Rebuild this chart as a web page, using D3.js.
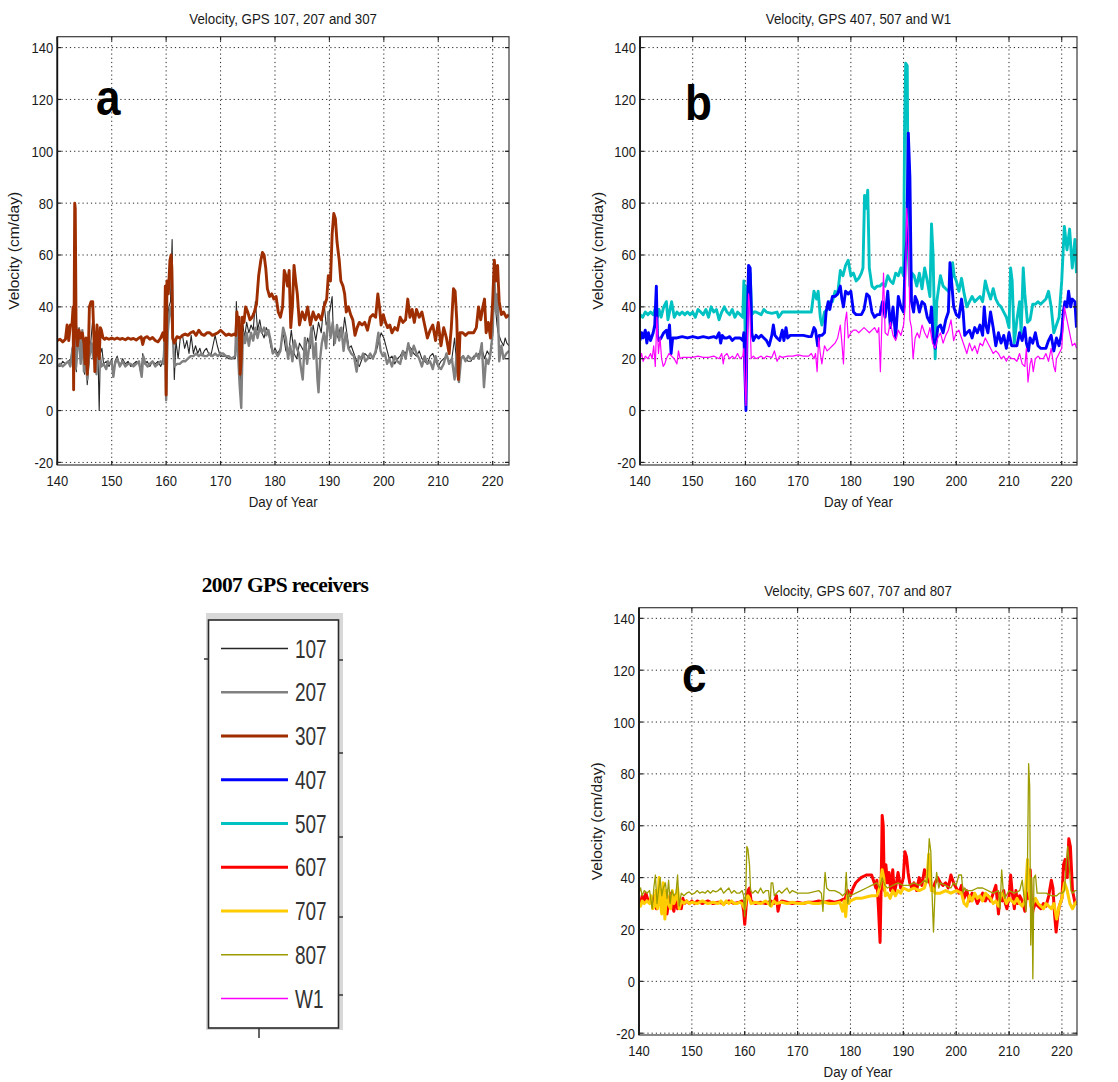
<!DOCTYPE html>
<html>
<head>
<meta charset="utf-8">
<script src="https://cdn.jsdelivr.net/npm/d3@7"></script>
<style>
  html, body { margin: 0; padding: 0; background: #fff; }
  svg { display: block; }
</style>
</head>
<body>
<svg id="fig" width="1118" height="1082"></svg>
<script>
// ---- Daily velocity records, [day of year, velocity in cm/day] ----
const gps107 = [[140,18],[140.5,17],[141,19],[141.5,18],[142,19],[142.5,20],[142.8,25],[143.05,30],[143.2,52],[143.35,22],[143.5,15],[143.8,30],[144,32],[144.3,22],[144.6,28],[145,14],[145.3,20],[145.5,10],[145.8,18],[146,22],[146.3,30],[146.5,35],[146.8,24],[147,20],[147.3,28],[147.5,19],[147.7,0],[147.9,22],[148.2,24],[148.5,18],[149,19],[149.5,17],[150,20],[150.3,13],[150.6,19],[151,21],[151.5,17],[152,20],[152.5,18],[153,19],[153.5,17],[154,18],[154.5,19],[155,18],[155.4,14],[155.7,22],[156,18],[156.5,19],[157,17],[157.5,19],[158,18],[158.5,19],[159,17],[159.5,20],[159.8,34],[160,5],[160.2,30],[160.5,40],[160.8,42],[161.1,66],[161.3,30],[161.5,12],[161.8,27],[162.2,20],[162.6,28],[163,29],[163.4,24],[163.8,27],[164.2,22],[164.6,29],[165,22],[165.4,25],[165.8,22],[166.2,24],[166.6,21],[167,23],[167.4,24],[167.8,22],[168.2,21],[168.6,25],[169,29],[169.4,25],[169.8,22],[170.2,21],[170.8,21],[171.5,20],[172.2,20],[172.7,20],[172.9,42],[173.2,26],[173.5,18],[173.7,10],[174,35],[174.4,28],[174.8,34],[175.2,30],[175.6,33],[176,31],[176.4,42],[176.8,31],[177.2,35],[177.6,30],[178,28],[178.4,32],[178.8,30],[179.2,25],[179.6,22],[180,24],[180.5,22],[181,24],[181.5,30],[182,23],[182.5,22],[183,31],[183.5,22],[184,20],[184.5,26],[185,24],[185.5,22],[186,28],[186.5,24],[187,33],[187.5,27],[188,34],[188.5,30],[189,42],[189.4,33],[189.8,35],[190.2,40],[190.5,44],[190.8,25],[191.2,30],[191.6,28],[192,32],[192.4,28],[192.8,36],[193.2,30],[193.6,24],[194,25],[194.5,22],[195,19],[195.5,17],[196,20],[196.5,22],[197,21],[197.5,20],[198,21],[198.5,22],[199,26],[199.5,30],[200,28],[200.5,24],[201,20],[201.5,21],[202,18],[202.5,20],[203,21],[203.5,23],[204,22],[204.5,25],[205,24],[205.5,22],[206,21],[206.5,23],[207,20],[207.5,19],[208,18],[208.5,21],[209,22],[209.5,19],[210,17],[210.5,19],[211,20],[211.5,21],[212,19],[212.5,20],[213,28],[213.3,20],[213.5,13],[213.8,18],[214,20],[214.5,21],[215,20],[215.5,19],[216,19],[216.5,21],[217,21],[217.5,22],[218,24],[218.5,20],[219,23],[219.5,21],[220,30],[220.2,49],[220.5,40],[220.8,33],[221,30],[221.5,27],[222,25],[222.3,28],[222.6,26],[223,25]];

const gps207 = [[140,17],[140.5,18],[141,17],[141.5,18],[142,19],[142.4,17],[142.8,24],[143,20],[143.2,35],[143.4,16],[143.7,25],[144,27],[144.3,18],[144.6,31],[144.9,15],[145.2,22],[145.5,12],[145.8,20],[146,22],[146.3,26],[146.6,20],[146.9,30],[147.2,14],[147.5,24],[147.8,22],[148.1,17],[148.5,18],[149,16],[149.3,19],[149.6,18],[150,19],[150.3,13],[150.6,18],[151,20],[151.5,17],[152,19],[152.5,17],[153,18],[153.5,18],[154,17],[154.5,18],[155,19],[155.5,13],[155.8,21],[156.2,18],[156.6,17],[157,18],[157.5,19],[158,17],[158.5,18],[159,19],[159.5,18],[159.8,30],[160,4],[160.3,30],[160.6,38],[160.9,40],[161.2,30],[161.5,17],[162,18],[162.5,18],[163,19],[163.5,19],[164,20],[164.5,21],[165,21],[165.5,22],[166,21],[166.5,22],[167,21],[167.5,21],[168,22],[168.5,21],[169,22],[169.5,21],[170,22],[170.5,22],[171,21],[171.5,21],[172,20],[172.7,21],[172.9,35],[173.2,22],[173.5,10],[173.8,1],[174.1,30],[174.5,26],[174.8,30],[175.2,25],[175.6,30],[176,27],[176.4,32],[176.8,28],[177.2,32],[177.6,30],[178,32],[178.4,29],[178.8,31],[179.2,27],[179.6,22],[180,23],[180.5,21],[181,23],[181.5,32],[182,28],[182.4,20],[182.8,25],[183.2,19],[183.6,27],[184,24],[184.4,22],[184.8,16],[185.1,12],[185.5,28],[185.9,18],[186.3,25],[186.7,32],[187.1,20],[187.5,26],[187.8,12],[188,7],[188.3,20],[188.6,26],[189,30],[189.4,24],[189.8,38],[190.2,28],[190.6,34],[191,26],[191.4,33],[191.8,27],[192.2,32],[192.6,23],[193,30],[193.5,24],[194,22],[194.5,21],[195,15],[195.4,21],[195.8,20],[196.2,22],[196.6,19],[197,20],[197.5,22],[198,20],[198.5,23],[199,30],[199.4,23],[199.8,21],[200.2,22],[200.6,18],[201,20],[201.5,17],[202,21],[202.5,19],[203,18],[203.5,23],[204,20],[204.5,26],[205,21],[205.5,25],[206,22],[206.5,20],[207,17],[207.5,21],[208,18],[208.5,19],[209,16],[209.5,21],[210,17],[210.5,16],[211,18],[211.5,22],[212,18],[212.5,20],[213,12],[213.4,22],[213.8,11],[214.2,20],[214.6,21],[215,19],[215.5,21],[216,20],[216.5,20],[217,22],[217.5,20],[218,26],[218.4,9],[218.8,20],[219.2,18],[219.6,22],[220,30],[220.3,52],[220.6,38],[220.9,45],[221.2,19],[221.6,25],[222,20],[222.5,22],[223,23]];

const gps307 = [[140,27],[140.5,27.5],[141,26.5],[141.5,27.5],[141.8,33],[142.1,27],[142.4,33],[142.7,33],[142.9,40],[143.0,8],[143.1,40],[143.2,80],[143.3,78],[143.45,33],[143.7,25],[144,31],[144.3,28],[144.6,30],[144.9,26],[145.1,18],[145.3,28],[145.5,14],[145.7,22],[145.9,40],[146.2,42],[146.5,42],[146.7,30],[146.9,15],[147.1,25],[147.3,33],[147.5,22],[147.7,20],[147.9,32],[148.1,31],[148.4,28],[148.7,27.5],[149,28],[149.5,27.5],[150,28],[150.5,27.5],[151,28],[151.5,27.5],[152,27.8],[152.5,27.3],[153,28],[153.5,27.5],[154,27.8],[154.5,27.2],[155,28],[155.4,28.5],[155.7,25.5],[156,28],[156.5,28.5],[157,27.5],[157.5,28.2],[158,27],[158.5,26.5],[159,28],[159.4,30],[159.7,27],[159.85,48],[160,6],[160.15,50],[160.4,45],[160.7,58],[160.9,60],[161.05,55],[161.2,28],[161.5,26],[162,28.5],[162.5,28],[163,29],[163.5,29.5],[164,29],[164.5,30],[165,30.5],[165.5,29],[166,31],[166.5,29.5],[167,29],[167.5,30],[168,30],[168.5,29],[169,29.5],[169.5,30],[170,31],[170.5,30],[171,29],[171.5,29.5],[172,29],[172.5,29.5],[172.8,29],[173,38],[173.2,33],[173.4,36],[173.6,14],[173.8,20],[174,36],[174.3,34],[174.6,40],[175,38],[175.4,35],[175.8,36],[176.2,38],[176.6,41],[177,52],[177.4,58],[177.7,61],[178,60],[178.3,55],[178.6,47],[179,44],[179.4,45],[179.8,43],[180.2,44],[180.6,38],[181,36],[181.4,40],[181.7,54],[182,52],[182.3,48],[182.6,54],[182.9,32],[183.2,40],[183.5,56],[183.8,50],[184.1,45],[184.5,33],[185,38],[185.5,35],[186,40],[186.5,33],[187,38],[187.5,35],[188,37],[188.5,35],[189,40],[189.5,43],[189.8,52],[190.2,50],[190.5,68],[190.8,76],[191.1,74],[191.4,65],[191.8,58],[192.1,50],[192.5,48],[192.8,45],[193.1,38],[193.5,40],[193.9,37],[194.3,35],[194.7,29],[195.1,32],[195.5,34],[196,33],[196.5,34],[197,31],[197.5,36],[198,37],[198.5,36],[198.9,45],[199.2,40],[199.5,33],[199.9,37],[200.3,34],[200.7,32],[201.1,33],[201.5,30],[202,32],[202.5,31],[203,36],[203.5,34],[204,35],[204.4,43],[204.8,36],[205.2,39],[205.6,34],[206,39],[206.5,36],[207,38],[207.5,33],[208,28],[208.5,31],[209,33],[209.5,27],[210,34],[210.5,25],[211,32],[211.5,28],[212,22],[212.4,32],[212.8,47],[213.1,46],[213.4,35],[213.7,12],[214,30],[214.5,30],[215,29],[215.5,30],[216,30],[216.5,30],[217,32],[217.4,40],[217.8,35],[218.2,40],[218.5,43],[218.8,30],[219.2,34],[219.6,28],[220,42],[220.3,58],[220.6,50],[220.9,56],[221.2,42],[221.6,37],[222,38],[222.5,36],[223,37]];

const gps407 = [[140,27],[140.3,30],[140.6,28],[141,31],[141.3,26],[141.6,30],[142,27],[142.5,30],[142.8,33],[143.1,48],[143.3,29],[143.6,27],[144,28],[144.5,30],[145,31],[145.3,28],[145.6,33],[145.9,22],[146.2,28],[146.5,28],[147,28],[148,28.5],[149,28],[150,28.5],[151,28],[152,28.5],[153,28],[154,28.5],[154.5,28],[155,30],[155.3,26],[155.6,29],[156,28],[156.5,28],[157,28.5],[157.5,27],[158,28],[158.5,28],[159,28],[159.5,27],[159.7,30],[159.9,15],[160.1,0],[160.3,30],[160.6,56],[160.9,55],[161.2,30],[161.5,27],[162,29],[162.5,28],[163,29],[163.5,28],[164,27],[164.5,25],[165,29],[165.3,33],[165.6,29],[166,28],[166.5,27],[167,31],[167.3,27],[167.7,32],[168,28],[168.5,29],[169,29],[170,29],[171,29],[172,28.5],[172.5,28.5],[173,32],[173.3,31],[173.7,25],[174,29],[174.5,29],[175,30],[175.3,38],[175.7,42],[176,39],[176.5,44],[177,44],[177.5,45],[178,48],[178.3,43],[178.6,40],[179,46],[179.5,45],[180,46],[180.5,38],[181,37],[182,37],[182.5,39],[183,45],[183.5,44],[184,38],[184.5,36],[185,37],[185.5,37],[186,42],[186.5,36],[187,46],[187.5,32],[188,40],[188.5,28],[189,44],[189.5,40],[190,38],[190.3,57],[190.6,66],[190.9,107],[191.2,90],[191.5,42],[191.9,38],[192.2,44],[192.6,42],[193,38],[193.5,42],[194,41],[194.5,36],[195,34],[195.3,40],[195.6,28],[196,24],[196.5,32],[197,33],[197.5,30],[198,35],[198.5,38],[198.8,57],[199.1,50],[199.5,40],[200,37],[200.5,36],[201,43],[201.3,38],[201.6,29],[202,30],[202.5,31],[203,28],[203.5,32],[204,30],[204.5,33],[205,29],[205.3,40],[205.6,33],[206,30],[206.5,38],[207,32],[207.5,25],[208,30],[208.5,26],[209,29],[209.5,24],[210,30],[210.5,25],[211,25],[211.5,25],[212,30],[212.5,27],[213,32],[213.3,26],[213.7,23],[214,28],[214.5,26],[215,30],[215.5,25],[216,24],[216.5,24],[217,24],[217.5,27],[218,29],[218.5,23],[219,28],[219.5,25],[220,30],[220.3,38],[220.6,42],[221,40],[221.3,46],[221.7,40],[222,43],[222.5,42],[222.8,32]];

const gps507 = [[140,37],[140.5,36],[141,38],[141.5,37],[142,38],[142.5,37],[143,40],[143.3,36],[143.6,39],[144,36],[144.5,40],[145,42],[145.3,35],[145.7,39],[146,42],[146.5,36],[147,38],[147.5,37],[148,38],[148.5,37],[149,38],[149.5,37],[150,38],[150.5,36],[151,39],[151.5,38],[152,37],[152.5,39],[153,36],[153.5,40],[154,38],[154.5,39],[155,35],[155.5,38],[156,40],[156.5,38],[157,37],[157.5,39],[158,36],[158.5,38],[159,37],[159.5,36],[159.7,50],[159.9,35],[160.1,12],[160.3,48],[160.6,42],[160.9,53],[161.2,37],[161.6,38],[162,38],[163,37],[163.5,39],[164,38],[165,37.5],[166,38],[166.3,36],[167,38],[168,38],[169,38],[170,38],[171,38],[172,38],[172.5,38],[173,46],[173.5,43],[173.8,46],[174.2,36],[174.5,33],[175,38],[175.5,39],[176,42],[176.5,42],[177,46],[177.5,45],[178,54],[178.5,52],[179,56],[179.5,58],[180,52],[180.5,53],[181,50],[181.5,51],[182,53],[182.3,55],[182.6,83],[182.9,78],[183.2,85],[183.5,55],[184,48],[184.5,47],[185,48],[185.5,48],[186,49],[186.5,48],[187,52],[187.5,50],[188,49],[188.5,53],[189,52],[189.5,55],[190,52],[190.2,110],[190.4,134],[190.7,133],[190.9,60],[191.2,48],[191.6,53],[192,52],[192.5,48],[193,53],[193.5,47],[194,55],[194.5,50],[195,44],[195.3,72],[195.6,60],[196,20],[196.3,42],[196.7,48],[197,52],[197.5,48],[198,47],[198.5,46],[199,48],[199.3,57],[199.6,52],[200,50],[200.5,46],[201,51],[201.5,45],[202,40],[202.5,42],[203,44],[203.5,42],[204,43],[204.5,44],[205,42],[205.5,50],[206,46],[206.5,43],[207,47],[207.5,43],[208,41],[208.5,40],[209,38],[209.5,36],[210,32],[210.3,55],[210.6,50],[211,26],[211.5,35],[212,42],[212.3,30],[212.7,55],[213,45],[213.5,34],[214,35],[214.5,41],[215,41],[215.5,42],[216,41],[217,43],[217.5,46],[218,40],[218.5,30],[219,33],[219.5,36],[220,50],[220.5,71],[221,62],[221.5,70],[222,55],[222.5,66],[222.8,53]];

const gpsW1 = [[140,20],[140.3,22],[140.6,19],[141,21],[141.5,20],[142,22],[142.3,20],[142.6,25],[142.9,17],[143.2,36],[143.5,22],[143.8,28],[144.1,20],[144.4,17],[144.7,18],[145,20],[145.5,22],[146,21],[146.5,20],[147,18],[147.3,23],[147.6,20],[148,20.5],[149,20.5],[150,20.5],[151,21],[152,20.5],[153,20.5],[154,21],[155,20],[155.5,22],[155.8,18],[156,21],[156.5,22],[157,20],[157.5,21],[158,20],[158.5,22],[159,20],[159.5,21],[159.7,24],[159.9,10],[160.1,2],[160.3,22],[160.6,45],[160.8,40],[161.1,20],[161.5,21],[162,20],[163,21],[163.5,20],[164,21],[165,20.5],[165.5,23],[166,19],[166.5,21],[167,20.5],[168,21],[169,21],[170,21.5],[171,21],[172,21],[172.5,22],[173,20],[173.3,22],[173.6,15],[173.9,28],[174.2,22],[174.5,18],[175,25],[175.5,23],[176,24],[176.5,25],[177,26],[177.5,28],[178,33],[178.3,26],[178.6,18],[178.9,34],[179.2,38],[179.5,28],[180,30],[180.5,31],[181,31],[181.5,30],[182,31],[182.5,32],[183,31],[183.5,30],[184,31],[184.5,32],[185,30],[185.3,32],[185.6,15],[185.9,35],[186.2,53],[186.5,30],[187,29],[187.5,34],[188,29],[188.5,27],[189,31],[189.5,29],[190,33],[190.3,40],[190.6,78],[190.9,68],[191.2,35],[191.5,32],[191.8,20],[192.2,28],[192.6,30],[193,28],[193.5,33],[194,30],[194.5,28],[195,32],[195.5,26],[196,24],[196.5,28],[197,30],[197.5,26],[198,29],[198.5,31],[199,35],[199.5,27],[200,30],[200.5,31],[201,28],[201.5,25],[202,22],[202.5,26],[203,23],[203.5,25],[204,22],[204.5,26],[205,25],[205.5,28],[206,26],[206.5,24],[207,22],[207.5,23],[208,22],[208.5,20],[209,21],[209.5,19],[210,21],[210.5,20],[211,20],[211.5,19],[212,22],[212.5,18],[213,17],[213.3,24],[213.6,11],[214,18],[214.3,20],[214.6,15],[215,20],[215.5,21],[216,20],[216.5,20],[217,22],[217.5,19],[218,24],[218.5,17],[218.8,15],[219,20],[219.5,22],[220,24],[220.5,40],[221,35],[221.5,30],[222,25],[222.5,26],[222.8,24]];

const gps607 = [[140,31],[140.3,30],[140.6,33],[141,31],[141.3,34],[141.6,32],[142,31],[142.5,30],[143,33],[143.3,28],[143.6,32],[144,30],[144.3,35],[144.6,27],[145,33],[145.3,26],[145.6,31],[146,34],[146.3,29],[146.6,27],[147,33],[147.3,28],[147.6,30],[148,28],[148.3,32],[148.6,30],[149,31],[149.5,30],[150,31],[150.5,30],[151,31],[152,30],[153,31],[154,30],[155,30.5],[156,30],[157,31],[158,30],[159,30.5],[159.5,31],[159.8,27],[160,22],[160.3,30],[160.6,35],[160.9,36],[161.2,31],[162,30],[163,30.5],[164,30],[165,31],[165.5,30],[166,33],[166.3,27],[166.6,30],[167,31],[168,30.5],[169,30],[170,30.5],[171,30],[172,30.5],[173,30.5],[174,31],[175,30.5],[176,31],[177,30.5],[178,31],[179,32],[179.5,35],[180,33],[180.5,36],[181,38],[182,40],[183,41],[184,41],[184.5,38],[184.8,36],[185,39],[185.3,28],[185.6,15],[185.8,36],[186,64],[186.2,60],[186.4,35],[186.7,45],[187,38],[187.3,42],[187.6,35],[188,43],[188.3,34],[188.7,38],[189,42],[189.5,36],[190,40],[190.3,50],[190.6,48],[190.9,42],[191.2,38],[191.6,36],[192,38],[192.5,35],[193,40],[193.5,37],[194,43],[194.5,40],[195,38],[195.5,35],[196,38],[196.5,40],[197,38],[197.5,37],[198,38],[198.5,36],[199,41],[199.5,38],[200,36],[200.5,34],[201,37],[201.5,32],[202,35],[202.5,31],[203,34],[203.5,33],[204,30],[204.5,32],[205,34],[205.5,31],[206,33],[206.5,31],[207,34],[207.5,37],[208,26],[208.3,34],[208.7,31],[209,35],[209.3,30],[209.6,28],[210,33],[210.3,41],[210.6,34],[211,28],[211.3,35],[211.6,30],[212,33],[212.5,31],[213,27],[213.3,34],[213.7,32],[214,43],[214.3,25],[214.6,28],[215,30],[215.5,29],[216,28],[216.5,30],[217,29],[217.5,33],[218,39],[218.3,36],[218.6,26],[218.9,19],[219.2,25],[219.5,29],[220,32],[220.3,45],[220.6,47],[221,40],[221.3,55],[221.6,52],[222,35],[222.5,30],[222.8,30]];

const gps707 = [[140,30],[140.3,29],[140.6,31],[141,30],[141.5,31],[142,30],[142.3,33],[142.6,28],[143,29],[143.2,35],[143.5,28],[143.8,40],[144,31],[144.3,26],[144.6,38],[144.9,24],[145.2,35],[145.5,30],[146,28],[146.3,35],[146.6,30],[147,32],[147.3,36],[147.6,28],[148,31],[148.5,30],[149,31],[149.5,30],[150,30.5],[151,30],[152,31],[153,30],[154,30.5],[155,30],[155.5,31],[156,29.5],[156.5,31],[157,30],[157.5,31],[158,30],[158.5,30],[159,30.5],[159.5,30],[160,28],[160.3,32],[160.6,33],[160.9,32],[161.2,30],[162,30.5],[163,30],[164,31],[164.5,30],[165,29],[165.5,31],[166,30],[167,30.5],[168,30],[169,30.5],[170,30],[171,30],[172,30.5],[173,30],[174,30],[175,30.5],[176,30],[177,30],[178,30.5],[178.5,27],[178.8,31],[179.1,25],[179.4,33],[179.7,30],[180,31],[181,32],[182,32],[183,32.5],[184,33],[185,33],[185.5,36],[186,43],[186.3,40],[186.6,33],[187,34],[187.5,32],[188,35],[188.5,33],[189,35],[189.5,34],[190,36],[191,35],[192,36],[193,35],[194,36],[194.5,40],[194.8,49],[195,44],[195.3,35],[195.6,36],[196,34],[197,34],[198,35],[199,34],[200,35],[201,34],[201.5,30],[202,29],[202.5,33],[203,31],[203.5,34],[204,32],[204.5,33],[205,31],[205.5,34],[206,33],[206.5,32],[207,30],[207.5,31],[208,29],[208.5,34],[209,33],[209.5,30],[210,32],[210.5,31],[211,30],[211.5,32],[212,30],[212.5,29],[213,31],[213.5,47],[213.8,35],[214.1,29],[214.5,30],[215,32],[215.5,30],[216,29],[216.5,28],[217,30],[217.5,29],[218,28],[218.5,30],[219,24],[219.5,29],[220,32],[220.5,38],[221,35],[221.5,30],[222,28],[222.5,30],[222.8,31]];

const gps807 = [[140,34],[140.3,36],[140.6,33],[141,35],[141.5,34],[142,35],[142.5,28],[142.8,36],[143.1,41],[143.4,30],[143.7,35],[144,40],[144.3,33],[144.6,36],[145,38],[145.3,32],[145.6,39],[145.9,30],[146.2,35],[146.6,33],[147,34],[147.3,41],[147.6,29],[148,34],[148.5,33],[149,34],[149.5,34.5],[150,33.5],[150.5,34],[151,35],[151.5,34],[152,34.5],[152.5,34],[153,35],[153.5,34],[154,35],[154.5,34.5],[155,35],[155.5,36],[156,34],[156.5,35],[157,36],[157.5,34],[158,35],[158.5,34],[159,34],[159.5,35],[159.8,33],[160,25],[160.2,35],[160.4,52],[160.6,51],[160.9,45],[161.1,35],[161.5,34],[162,35],[162.5,34],[163,36],[163.5,34],[164,35],[164.5,35],[164.8,29],[165,38],[165.3,38],[165.6,33],[166,34],[166.5,35],[167,34],[167.5,35],[168,36],[168.5,34],[169,35],[170,34],[171,34],[172,34],[173,34.5],[174,35],[174.5,34],[174.8,27],[175,35],[175.2,42],[175.5,36],[176,35],[177,35],[178,34],[178.5,33],[179,34],[179.2,42],[179.5,30],[179.8,34],[180,33],[181,34],[182,35],[183,36],[184,37],[185,38],[185.5,36],[186,40],[186.5,37],[187,36],[188,37],[189,38],[190,37],[191,37],[192,38],[193,37],[194,39],[194.5,38],[194.9,55],[195.2,50],[195.5,30],[195.7,19],[196,35],[196.3,42],[196.7,36],[197,38],[198,37],[199,36],[199.5,38],[200,37],[200.5,41],[201,41],[201.3,34],[201.6,36],[202,35],[203,35],[204,36],[205,36],[206,35],[207,34],[208,35],[208.3,28],[208.6,43],[208.9,35],[209.2,32],[210,35],[211,34],[212,35],[212.5,39],[212.8,33],[213.2,27],[213.5,48],[213.7,84],[213.9,75],[214.1,14],[214.3,40],[214.5,1],[214.7,40],[215,41],[215.3,34],[215.7,34],[216,34],[217,34],[218,33],[218.5,33],[219,33],[219.5,34],[220,34],[220.5,35],[220.8,45],[221.1,52],[221.4,44],[221.7,35],[222,34],[222.5,35],[222.8,35]];

// ---- Axis ticks and labels ----
const dayTicks = [140, 150, 160, 170, 180, 190, 200, 210, 220];
const velocityTicks = [-20, 0, 20, 40, 60, 80, 100, 120, 140];
const receiverNames = ["107", "207", "307", "407", "507", "607", "707", "807", "W1"];

// ---- Line styles per receiver ----
const receiverStyle = {
  "107": { color: "#262626", width: 1.1 },
  "207": { color: "#808080", width: 2.4 },
  "307": { color: "#9e2e00", width: 2.9 },
  "407": { color: "#0000ff", width: 2.9 },
  "507": { color: "#00c2c2", width: 2.9 },
  "607": { color: "#ff0000", width: 3.0 },
  "707": { color: "#ffcc00", width: 3.0 },
  "807": { color: "#9c9c00", width: 1.3 },
  "W1":  { color: "#ff00ff", width: 1.2 }
};

const receiverData = {
  "107": gps107, "207": gps207, "307": gps307,
  "407": gps407, "507": gps507, "W1": gpsW1,
  "607": gps607, "707": gps707, "807": gps807
};

// ---- Panel layout ----
const panels = [
  { tag: "a", title: "Velocity, GPS 107, 207 and 307", names: ["107", "207", "307"],
    left: 57.3, right: 509, top: 36.7, bottom: 465, xMax: 223, yMin: -21, yMax: 144.2,
    tagPos: [96, 115], titleY: 24, ylabX: 19 },
  { tag: "b", title: "Velocity, GPS 407, 507 and W1", names: ["507", "407", "W1"],
    left: 640, right: 1077, top: 36.7, bottom: 465, xMax: 222.9, yMin: -21, yMax: 144.2,
    tagPos: [685, 120], titleY: 24, ylabX: 603 },
  { tag: "c", title: "Velocity, GPS 607, 707 and 807", names: ["607", "707", "807"],
    left: 639, right: 1077, top: 607.7, bottom: 1035, xMax: 222.85, yMin: -20.7, yMax: 144.1,
    tagPos: [682, 692], titleY: 596, ylabX: 602 }
];

const FONT = "'Liberation Sans', Arial, Helvetica, sans-serif";
const svg = d3.select("#fig");
svg.append("rect").attr("width", 1118).attr("height", 1082).attr("fill", "#fff");

// horizontally condensed text, as in the exported figure
function narrowText(g, x, y, str, size, sx, anchor, fill, weight) {
  return g.append("text")
    .attr("transform", `translate(${x},${y}) scale(${sx},1)`)
    .attr("text-anchor", anchor || "middle")
    .attr("font-family", FONT)
    .attr("font-size", size)
    .attr("font-weight", weight || "normal")
    .attr("fill", fill || "#1a1a1a")
    .text(str);
}

panels.forEach(p => {
  const g = svg.append("g");
  const x = d3.scaleLinear().domain([140, p.xMax]).range([p.left, p.right]);
  const y = d3.scaleLinear().domain([p.yMin, p.yMax]).range([p.bottom, p.top]);

  // dotted grid
  const grid = g.append("g").attr("stroke", "#000").attr("stroke-width", 1)
    .attr("stroke-dasharray", "1.2,3").attr("opacity", 0.85);
  grid.selectAll("line.v").data(dayTicks.filter(d => d > 140)).join("line")
    .attr("x1", d => x(d)).attr("x2", d => x(d))
    .attr("y1", p.top).attr("y2", p.bottom);
  grid.selectAll("line.h").data(velocityTicks).join("line")
    .attr("x1", p.left).attr("x2", p.right)
    .attr("y1", d => y(d)).attr("y2", d => y(d));

  // series
  const line = d3.line().x(d => x(d[0])).y(d => y(d[1]));
  const clipId = "clip-" + p.tag;
  g.append("clipPath").attr("id", clipId).append("rect")
    .attr("x", p.left).attr("y", p.top)
    .attr("width", p.right - p.left).attr("height", p.bottom - p.top);
  const lines = g.append("g").attr("clip-path", `url(#${clipId})`);
  p.names.forEach(n => {
    lines.append("path")
      .datum(receiverData[n])
      .attr("fill", "none")
      .attr("stroke", receiverStyle[n].color)
      .attr("stroke-width", receiverStyle[n].width)
      .attr("stroke-linejoin", "round")
      .attr("d", line);
  });

  // frame
  g.append("rect").attr("x", p.left).attr("y", p.top)
    .attr("width", p.right - p.left).attr("height", p.bottom - p.top)
    .attr("fill", "none").attr("stroke", "#3a3a3a").attr("stroke-width", 1.2);
  g.append("line").attr("x1", p.left).attr("x2", p.left).attr("y1", p.top).attr("y2", p.bottom)
    .attr("stroke", "#111").attr("stroke-width", 1.8);

  // inward ticks on all four sides
  const tk = g.append("g").attr("stroke", "#222").attr("stroke-width", 1.2);
  velocityTicks.forEach(v => {
    tk.append("line").attr("x1", p.left).attr("x2", p.left + 4).attr("y1", y(v)).attr("y2", y(v));
    tk.append("line").attr("x1", p.right).attr("x2", p.right - 4).attr("y1", y(v)).attr("y2", y(v));
  });
  dayTicks.forEach(d => {
    tk.append("line").attr("x1", x(d)).attr("x2", x(d)).attr("y1", p.bottom).attr("y2", p.bottom - 4);
    tk.append("line").attr("x1", x(d)).attr("x2", x(d)).attr("y1", p.top).attr("y2", p.top + 4);
  });

  // tick labels
  velocityTicks.forEach(v => {
    narrowText(g, p.left - 4, y(v) + 5.5, String(v), 15.5, 0.84, "end");
  });
  dayTicks.forEach(d => {
    narrowText(g, x(d), p.bottom + 21, String(d), 15.5, 0.84, "middle");
  });

  // axis titles
  narrowText(g, (p.left + p.right) / 2, p.bottom + 42, "Day of Year", 15.5, 0.86, "middle");
  g.append("text")
    .attr("transform", `translate(${p.ylabX},${(p.top + p.bottom) / 2}) rotate(-90)`)
    .attr("text-anchor", "middle")
    .attr("font-family", FONT).attr("font-size", 15.5).attr("fill", "#1a1a1a")
    .text("Velocity (cm/day)");

  // panel title
  narrowText(g, (p.left + p.right) / 2, p.titleY, p.title, 15.5, 0.86, "middle");

  // panel letter
  narrowText(g, p.tagPos[0], p.tagPos[1], p.tag, 50, 0.88, "start", "#000", "bold");
});

// ---- Legend ----
const lg = svg.append("g");
lg.append("text")
  .attr("x", 285).attr("y", 592)
  .attr("text-anchor", "middle")
  .attr("font-family", "'Liberation Serif', 'Times New Roman', serif")
  .attr("font-weight", "bold").attr("font-size", 21.5)
  .attr("letter-spacing", -0.6)
  .attr("fill", "#000")
  .text("2007 GPS receivers");

lg.append("rect").attr("x", 206).attr("y", 613).attr("width", 137).attr("height", 417)
  .attr("fill", "#d8d8d8");
lg.append("rect").attr("x", 208.5).attr("y", 620).attr("width", 130).attr("height", 408)
  .attr("fill", "#fff").attr("stroke", "#2a2a2a").attr("stroke-width", 1.6);

// stray axis marks around the legend box
const marks = lg.append("g").attr("stroke", "#333").attr("stroke-width", 1.5);
[660, 753, 837, 917, 995].forEach(v => {
  marks.append("line").attr("x1", 338).attr("x2", 343).attr("y1", v).attr("y2", v);
});
marks.append("line").attr("x1", 204).attr("x2", 209).attr("y1", 659).attr("y2", 659);
marks.append("line").attr("x1", 259).attr("x2", 259).attr("y1", 1028).attr("y2", 1038);

const legendY = d3.scalePoint().domain(receiverNames).range([648.5, 998.5]);
receiverNames.forEach(n => {
  const yy = legendY(n);
  lg.append("line").attr("x1", 221).attr("x2", 288)
    .attr("y1", yy).attr("y2", yy)
    .attr("stroke", receiverStyle[n].color)
    .attr("stroke-width", Math.max(receiverStyle[n].width, 1.3));
  narrowText(lg, 295, yy + 9, n, 25, 0.76, "start", "#333");
});
</script>
</body>
</html>
